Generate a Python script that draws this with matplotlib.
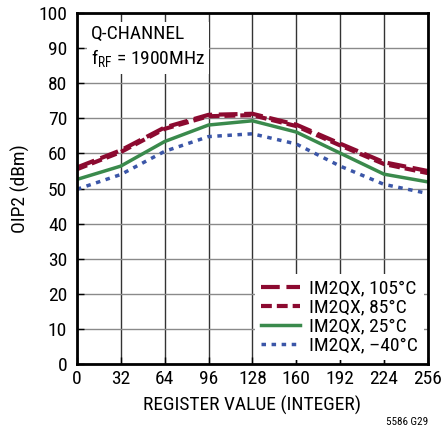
import numpy as np
import matplotlib
matplotlib.use("Agg")
import matplotlib.pyplot as plt

plt.rcParams.update({
    "font.family": ["Roboto Condensed", "Liberation Sans", "DejaVu Sans"],
    "font.size": 14,
    "axes.unicode_minus": False,
})

register = [0, 32, 64, 96, 128, 160, 192, 224, 256]
oip2_105 = [56.0, 60.9, 67.4, 71.0, 71.3, 68.2, 62.8, 57.5, 55.0]
oip2_85 = [55.5, 60.4, 67.0, 70.6, 70.9, 67.8, 62.3, 57.0, 54.4]
oip2_25 = [52.6, 56.4, 63.4, 68.1, 69.3, 66.1, 60.1, 54.1, 51.9]
oip2_m40 = [49.8, 54.0, 60.6, 64.8, 65.6, 62.7, 56.4, 51.2, 48.6]

labels = ["IM2QX, 105°C", "IM2QX, 85°C", "IM2QX, 25°C", "IM2QX, \u201340°C"]
xticks = list(range(0, 257, 32))
yticks = list(range(0, 101, 10))

red = "#8c0a30"
green = "#3a8a4c"
blue = "#3b56a8"

fig = plt.figure(figsize=(4.42, 4.33), dpi=100)
ax = fig.add_axes([0.174, 0.159, 0.794, 0.811])

ax.plot(register, oip2_105, color=red, lw=3.0, dashes=(4.5, 1.6), label=labels[0])
ax.plot(register, oip2_85, color=red, lw=3.0, dashes=(2.6, 1.2), label=labels[1])
ax.plot(register, oip2_25, color=green, lw=2.5, label=labels[2])
ax.plot(register, oip2_m40, color=blue, lw=2.5, dashes=(1.3, 1.6), label=labels[3])

ax.set_xlim(0, 256)
ax.set_ylim(0, 100)
ax.set_xticks(xticks)
ax.set_yticks(yticks)
ax.tick_params(direction="in", length=5, width=1, labelsize=14)
ax.tick_params(axis="x", pad=4)
ax.tick_params(axis="y", pad=7)
ax.xaxis.grid(True, color="#333333", lw=1.0)
ax.yaxis.grid(True, color="#8a8a8a", lw=1.0)
ax.set_axisbelow(True)
for s in ax.spines.values():
    s.set_linewidth(2.0)

ax.set_xlabel("REGISTER VALUE (INTEGER)", fontsize=14, labelpad=6)
ax.set_ylabel("OIP2 (dBm)", fontsize=14, labelpad=6)

ax.text(0.04, 0.965, "Q-CHANNEL\nf$_{\\mathregular{RF}}$ = 1900MHz", transform=ax.transAxes,
        ha="left", va="top", fontsize=14, linespacing=1.25,
        bbox=dict(facecolor="white", edgecolor="none", pad=3))

leg = ax.legend(loc="lower right", frameon=True, fancybox=False, fontsize=14,
                handlelength=2.0, handletextpad=0.5, labelspacing=0.05,
                borderpad=0.3, borderaxespad=0.2)
leg.get_frame().set_edgecolor("none")
leg.get_frame().set_facecolor("white")
leg.get_frame().set_alpha(1)

fig.text(0.968, 0.015, "5586 G29", ha="right", va="bottom", fontsize=8)

fig.savefig("out.png", dpi=100)
